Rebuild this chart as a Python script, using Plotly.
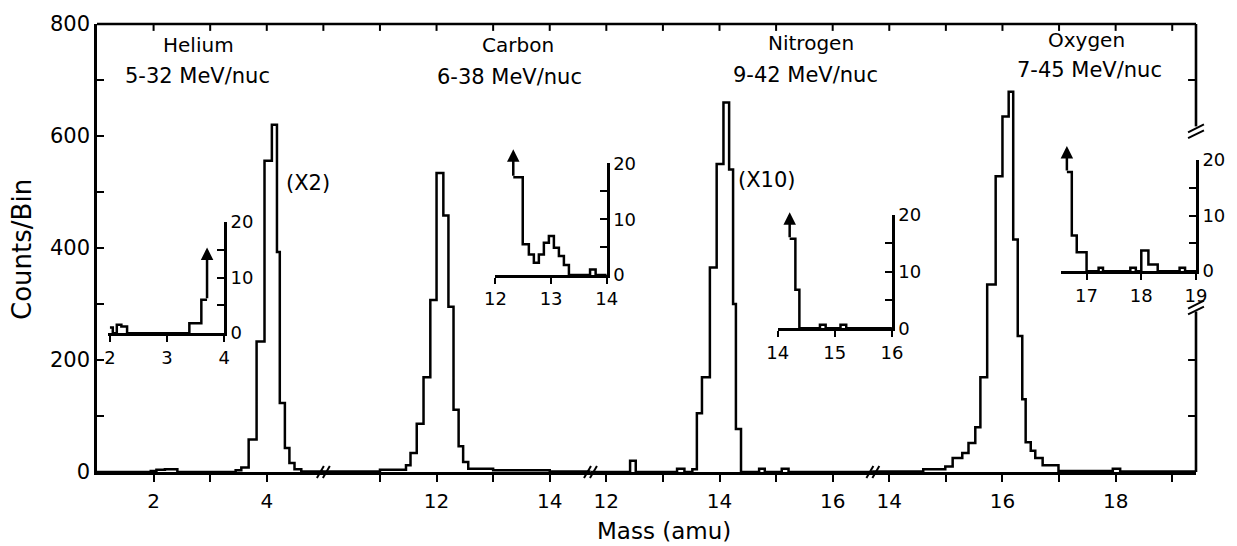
import plotly.graph_objects as go

# ---------------- data ----------------
# Main panel: bin edges (mass, amu) and counts/bin as displayed
he_edges = [1.0, 1.95, 2.05, 2.2, 2.42, 3.45, 3.55, 3.68, 3.82, 3.96, 4.09, 4.18, 4.23, 4.32, 4.40, 4.49, 4.61, 5.0]
he_counts = [0, 2, 4, 5, 0, 3, 8, 58, 233, 556, 620, 393, 123, 43, 16, 5, 1]

c_edges = [10.0, 11.0, 11.46, 11.54, 11.65, 11.77, 11.89, 12.0, 12.12, 12.21, 12.30, 12.39, 12.47, 12.56, 13.0, 14.0, 14.72]
c_counts = [1, 4, 12, 34, 86, 169, 307, 534, 458, 295, 111, 46, 18, 6, 3, 1]

n_edges = [11.72, 12.42, 12.52, 13.25, 13.38, 13.52, 13.6, 13.69, 13.83, 13.95, 14.07, 14.17, 14.24, 14.29, 14.38, 14.7, 14.8, 15.1, 15.22, 16.71]
n_counts = [0, 20, 0, 6, 0, 5, 105, 169, 365, 550, 660, 540, 300, 77, 0, 6, 0, 6, 0]

o_edges = [13.72, 14.6, 14.99, 15.12, 15.29, 15.40, 15.52, 15.61, 15.73, 15.88, 16.0, 16.11, 16.19, 16.27, 16.35, 16.41, 16.5, 16.58, 16.71, 16.99, 17.95, 18.08, 19.42]
o_counts = [1, 5, 10, 25, 34, 52, 80, 169, 335, 528, 635, 679, 415, 243, 130, 53, 38, 25, 12, 2, 6, 1]

# Insets (counts/bin, 0-20 scale)
he_in_edges = [2.0, 2.05, 2.12, 2.2, 2.3, 3.39, 3.6, 3.7]
he_in_counts = [1, 0, 1.5, 1.2, 0, 1.8, 6]
he_in_arrow = (3.7, 6, 15.4)

c_in_edges = [12.32, 12.49, 12.6, 12.69, 12.78, 12.87, 12.96, 13.05, 13.14, 13.23, 13.32, 13.7, 13.8, 14.0]
c_in_counts = [17.5, 5.5, 3.7, 2.2, 3.7, 5.8, 7.0, 4.9, 3.4, 1.8, 0, 1, 0]
c_in_arrow = (12.32, 17.5, 22.5)

n_in_edges = [14.21, 14.31, 14.38, 14.74, 14.84, 15.1, 15.2, 16.0]
n_in_counts = [15.8, 6.8, 0, 0.6, 0, 0.6, 0]
n_in_arrow = (14.21, 15.8, 20.5)

o_in_edges = [16.64, 16.73, 16.82, 17.0, 17.22, 17.3, 17.8, 17.9, 18.0, 18.13, 18.3, 18.7, 18.8, 19.0]
o_in_counts = [17.8, 6.4, 3.4, 0, 0.6, 0, 0.6, 0, 3.7, 1.2, 0, 0.6, 0]
o_in_arrow = (16.64, 17.8, 22.5)

# broken mass axis: display coordinate = mass + offset
offsets = {"He": 0.0, "C": -5.0, "N": -2.0, "O": 1.0}
u_range = [1.0, 20.42]
breaks_u = [5.0, 9.72, 14.71]

main_ticks = {"He": [2, 3, 4], "C": [11, 12, 13, 14], "N": [12, 13, 14, 15, 16], "O": [14, 15, 16, 17, 18, 19]}
labels = [("Helium", "5-32 MeV/nuc"), ("Carbon", "6-38 MeV/nuc"),
          ("Nitrogen", "9-42 MeV/nuc"), ("Oxygen", "7-45 MeV/nuc")]

# ---------------- layout geometry (pixels) ----------------
W, H = 1237, 546
L, R, T, B = 97, 1203, 17, 472
FONT = "DejaVu Sans"
LW = 2.6
HW = 2.5


def px_x(px):
    return (px - L) / (R - L)


def px_y(py):
    return (B - py) / (B - T)


def u_px(u):
    return L + (u - u_range[0]) / (u_range[1] - u_range[0]) * (R - L)


def steps(edges, counts, off=0.0):
    x = [edges[0] + off] + [e + off for e in edges]
    y = [0] + list(counts) + [counts[-1]]
    return x, y


fig = go.Figure()

for key, e, c in [("He", he_edges, he_counts), ("C", c_edges, c_counts),
                  ("N", n_edges, n_counts), ("O", o_edges, o_counts)]:
    x, y = steps(e, c, offsets[key])
    fig.add_trace(go.Scatter(x=x, y=y, mode="lines", line=dict(color="black", width=HW, shape="hv"),
                             hoverinfo="skip", xaxis="x", yaxis="y"))

tickvals, ticktext = [], []
for key, ms in main_ticks.items():
    for m in ms:
        tickvals.append(m + offsets[key])
        ticktext.append(str(m) if m % 2 == 0 else "")

fig.update_layout(
    width=W, height=H, margin=dict(l=L, r=W - R, t=T, b=H - B),
    plot_bgcolor="white", paper_bgcolor="white", showlegend=False,
    font=dict(family=FONT, color="black"),
    xaxis=dict(range=u_range, showline=True, linecolor="black", linewidth=LW, ticks="outside",
               ticklen=7, tickwidth=2, tickcolor="black", tickvals=tickvals, ticktext=ticktext,
               tickfont=dict(size=20), showgrid=False, zeroline=False, ticklabelstandoff=2),
    yaxis=dict(range=[0, 800], showline=True, linecolor="black", linewidth=LW, ticks="inside",
               ticklen=7, tickwidth=2, tickcolor="black", tickvals=list(range(0, 801, 100)),
               ticktext=[str(v) if v % 200 == 0 else "" for v in range(0, 801, 100)],
               tickfont=dict(size=21), showgrid=False, zeroline=False),
)

# ---------------- insets ----------------
insets = [
    dict(edges=he_in_edges, counts=he_in_counts, arrow=he_in_arrow, xr=[1.97, 4.0],
         px=(108.3, 225, 331, 218), tv=[2, 3, 4]),
    dict(edges=c_in_edges, counts=c_in_counts, arrow=c_in_arrow, xr=[12.0, 14.0],
         px=(498, 610, 272, 158.5), tv=[12, 13, 14]),
    dict(edges=n_in_edges, counts=n_in_counts, arrow=n_in_arrow, xr=[14.0, 16.0],
         px=(782, 897, 326, 211), tv=[14, 15, 16]),
    dict(edges=o_in_edges, counts=o_in_counts, arrow=o_in_arrow, xr=[16.53, 19.0],
         px=(1067, 1203, 268, 155), tv=[17, 18, 19]),
]
annotations = []
for i, ins in enumerate(insets, start=2):
    xl, xr_, y0, y20 = ins["px"]
    xa, ya = f"xaxis{i}", f"yaxis{i}"
    fig.update_layout(**{
        xa: dict(domain=[px_x(xl), px_x(xr_)], range=ins["xr"], anchor=f"y{i}", showline=True,
                 linecolor="black", linewidth=LW, ticks="outside", ticklen=6, tickwidth=2,
                 tickcolor="black", tickvals=ins["tv"], ticktext=[str(v) for v in ins["tv"]],
                 tickfont=dict(size=18), showgrid=False, zeroline=False, ticklabelstandoff=0),
        ya: dict(domain=[px_y(y0), px_y(y20)], range=[0, 20], anchor=f"x{i}", side="right",
                 showline=True, linecolor="black", linewidth=LW, ticks="inside", ticklen=7,
                 tickwidth=2, tickcolor="black", tickvals=[0, 5, 10, 15, 20],
                 ticktext=["0", "", "10", "", "20"], tickfont=dict(size=18), showgrid=False,
                 zeroline=False),
    })
    x, y = steps(ins["edges"], ins["counts"])
    fig.add_trace(go.Scatter(x=x[1:], y=y[1:], mode="lines",
                             line=dict(color="black", width=HW, shape="hv"),
                             hoverinfo="skip", xaxis=f"x{i}", yaxis=f"y{i}"))
    ax_x, a_from, a_to = ins["arrow"]
    annotations.append(dict(x=ax_x, y=a_to, ax=ax_x, ay=a_from, xref=f"x{i}", yref=f"y{i}",
                            axref=f"x{i}", ayref=f"y{i}", text="", showarrow=True,
                            arrowhead=2, arrowsize=1.0, arrowwidth=2.5, arrowcolor="black",
                            standoff=0, startstandoff=0))

# ---------------- frame decorations ----------------
shapes = []
line = dict(color="black", width=LW)
# top frame and ticks
shapes.append(dict(type="line", xref="paper", yref="paper", x0=0, x1=1, y0=1, y1=1, line=line))
for u in range(2, 21):
    xp = px_x(u_px(u))
    shapes.append(dict(type="line", xref="paper", yref="paper", x0=xp, x1=xp, y0=1,
                       y1=px_y(T + 7), line=dict(color="black", width=2)))
# right frame, broken around the oxygen inset
shapes.append(dict(type="line", xref="paper", yref="paper", x0=1, x1=1, y0=1, y1=px_y(121), line=line))
shapes.append(dict(type="line", xref="paper", yref="paper", x0=1, x1=1, y0=px_y(309), y1=0, line=line))
for cval in [100, 200, 700]:
    py = B - cval * (B - T) / 800
    shapes.append(dict(type="line", xref="paper", yref="paper", x0=px_x(R - 8), x1=1,
                       y0=px_y(py), y1=px_y(py), line=dict(color="black", width=2)))
for pyc in [126, 305]:
    for d in (-3, 3):
        shapes.append(dict(type="line", xref="paper", yref="paper",
                           x0=px_x(R - 8), x1=px_x(R + 8), y0=px_y(pyc + d + 4), y1=px_y(pyc + d - 4),
                           line=dict(color="black", width=2)))
# x-axis break marks
for ub in breaks_u:
    cx = u_px(ub)
    for d in (-3, 3):
        shapes.append(dict(type="line", xref="paper", yref="paper",
                           x0=px_x(cx + d - 3.5), x1=px_x(cx + d + 3.5), y0=px_y(B + 6), y1=px_y(B - 6),
                           line=dict(color="black", width=2)))

# ---------------- texts ----------------
def txt(x, y, s, size, angle=0):
    return dict(x=px_x(x), y=px_y(y), xref="paper", yref="paper", text=s, showarrow=False,
                xanchor="center", yanchor="middle", textangle=angle, font=dict(size=size))


text_pos = [((199, 38), (198, 70)), ((521, 38), (512, 71)), ((816, 36), (810, 69)), ((1093, 33), (1096, 64))]
for (name, rng), ((x1, y1), (x2, y2)) in zip(labels, text_pos):
    annotations.append(txt(x1, y1, name, 20))
    annotations.append(txt(x2, y2, rng, 21))
annotations.append(txt(309, 178, "(X2)", 21))
annotations.append(txt(771, 175, "(X10)", 21))
annotations.append(txt(668, 532, "Mass (amu)", 23))
annotations.append(txt(22, 246, "Counts/Bin", 26, -90))

fig.update_layout(shapes=shapes, annotations=annotations)
fig.write_html("out.html")
